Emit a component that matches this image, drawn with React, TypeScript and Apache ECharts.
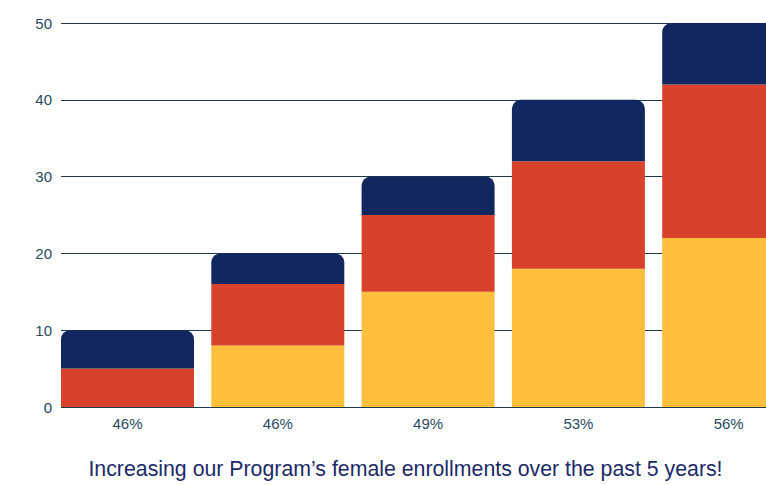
import React, { useEffect, useRef } from "react";
import * as echarts from "echarts";

const categories = ["46%", "46%", "49%", "53%", "56%"];
const yellowValues = [0, 8, 15, 18, 22];
const redValues = [5, 8, 10, 14, 20];
const navyValues = [5, 4, 5, 8, 8];
const yTicks = { min: 0, max: 50, interval: 10 };
const titleText = "Increasing our Program’s female enrollments over the past 5 years!";

export default function App() {
  const ref = useRef<HTMLDivElement>(null);
  useEffect(() => {
    document.body.style.margin = "0";
    if (!ref.current) return;
    const chart = echarts.init(ref.current, undefined, { renderer: "svg" });
    const font = "Liberation Sans, Arial, sans-serif";
    const labelColor = "#2a4a5e";
    chart.setOption({
      animation: false,
      backgroundColor: "#ffffff",
      textStyle: { fontFamily: font },
      grid: [
        { left: 52.35, width: 751.5, top: 23, height: 384, outerBoundsMode: "none", containLabel: false },
        { left: 61, right: 0, top: 23, height: 384, outerBoundsMode: "none", containLabel: false },
      ],
      xAxis: [
        {
          type: "category",
          gridIndex: 0,
          data: categories,
          axisLine: { show: false },
          axisTick: { show: false },
          axisLabel: { color: labelColor, fontSize: 15, margin: 9, fontFamily: font },
        },
        {
          type: "value",
          gridIndex: 1,
          show: false,
        },
      ],
      yAxis: [
        {
          type: "value",
          gridIndex: 0,
          min: yTicks.min,
          max: yTicks.max,
          interval: yTicks.interval,
          show: false,
          splitLine: { show: false },
        },
        {
          type: "value",
          gridIndex: 1,
          min: yTicks.min,
          max: yTicks.max,
          interval: yTicks.interval,
          axisLine: { show: false },
          axisTick: { show: false },
          axisLabel: { color: labelColor, fontSize: 15, margin: 9, fontFamily: font },
          splitLine: { show: true, lineStyle: { color: "#1d3b4c", width: 1 } },
        },
      ],
      series: [
        {
          type: "bar",
          stack: "s",
          xAxisIndex: 0,
          yAxisIndex: 0,
          barWidth: 133,
          data: yellowValues,
          itemStyle: { color: "#FEBF3D" },
        },
        {
          type: "bar",
          stack: "s",
          xAxisIndex: 0,
          yAxisIndex: 0,
          barWidth: 133,
          data: redValues,
          itemStyle: { color: "#D9422A" },
        },
        {
          type: "bar",
          stack: "s",
          xAxisIndex: 0,
          yAxisIndex: 0,
          barWidth: 133,
          data: navyValues,
          itemStyle: { color: "#12275F", borderRadius: [9, 9, 0, 0] },
        },
      ],
      graphic: [
        {
          type: "text",
          x: 405.5,
          y: 469,
          style: {
            text: titleText,
            fill: "#1B2A68",
            fontSize: 21.3,
            fontFamily: font,
            align: "center",
            verticalAlign: "middle",
          },
        },
      ],
    });
    return () => chart.dispose();
  }, []);
  return (
    <div
      ref={ref}
      style={{ position: "fixed", left: 0, top: 0, width: 766, height: 485 }}
    />
  );
}
